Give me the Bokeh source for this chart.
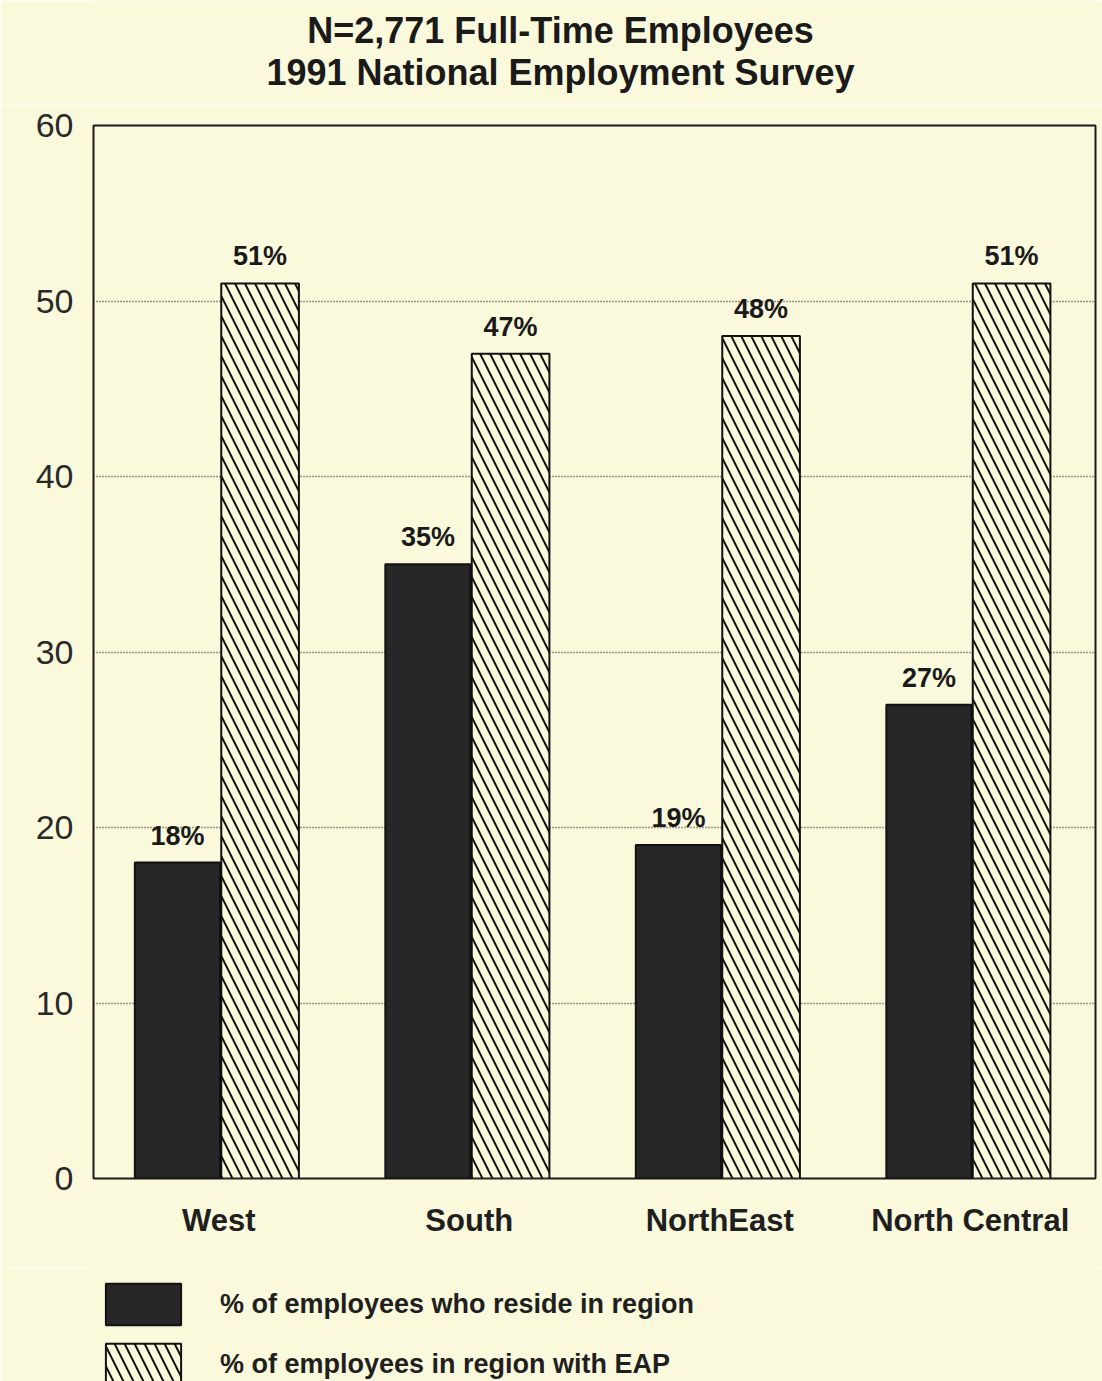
from bokeh.plotting import figure
from bokeh.layouts import column
from bokeh.models import (ColumnDataSource, FactorRange, Range1d, FixedTicker,
                          LabelSet, Legend, LegendItem, Label)
from bokeh.core.properties import value
from bokeh.transform import dodge
from bokeh.embed import file_html
from bokeh.resources import INLINE

regions = ["West", "South", "NorthEast", "North Central"]
reside_pct = [18, 35, 19, 27]
eap_pct = [51, 47, 48, 51]
y_ticks = [0, 10, 20, 30, 40, 50, 60]
title_line1 = "N=2,771 Full-Time Employees"
title_line2 = "1991 National Employment Survey"
legend_reside = "% of employees who reside in region"
legend_eap = "% of employees in region with EAP"

BG = "#fbf9dc"
FONT = "Liberation Sans"
W = 1102
TITLE_H = 105
LEGEND_H = 113
MAIN_H = 1381 - TITLE_H - LEGEND_H
FRAME_L, FRAME_R = 93, 1095

dark_style = dict(fill_color="#272727", line_color="#111111", line_width=2)
hatch_style = dict(fill_color=BG, line_color="#111111", line_width=2,
                   hatch_pattern="\\", hatch_color="#111111",
                   hatch_weight=2, hatch_scale=20)

# ---------- title strip ----------
tf = figure(width=W, height=TITLE_H, x_range=Range1d(FRAME_L, FRAME_R),
            y_range=Range1d(0, TITLE_H),
            output_backend="svg", toolbar_location=None,
            x_axis_type=None, y_axis_type=None, min_border=0,
            min_border_left=FRAME_L, min_border_right=W - FRAME_R)
tf.background_fill_color = BG
tf.border_fill_color = BG
tf.outline_line_color = None
tf.grid.grid_line_color = None
for txt, yy in [(title_line1, TITLE_H - 30), (title_line2, TITLE_H - 72)]:
    tf.add_layout(Label(x=560, y=yy, text=txt, text_align="center",
                        text_baseline="middle", text_font=FONT,
                        text_font_style="bold", text_font_size="36px",
                        text_color="#1a1a1a"))

# ---------- main chart ----------
src = ColumnDataSource(dict(
    region=regions,
    reside=reside_pct,
    eap=eap_pct,
    reside_lbl=[f"{v}%" for v in reside_pct],
    eap_lbl=[f"{v}%" for v in eap_pct],
))

p = figure(x_range=FactorRange(*regions), y_range=Range1d(0, 60),
           width=W, height=MAIN_H, output_backend="svg",
           toolbar_location=None, min_border_left=FRAME_L,
           min_border_right=W - FRAME_R,
           min_border_top=20, min_border_bottom=MAIN_H - 1073)

p.background_fill_color = BG
p.border_fill_color = BG
p.outline_line_color = "#1a1a1a"
p.outline_line_width = 2

x_dark = dodge("region", -0.165, range=p.x_range)
x_hatch = dodge("region", 0.165, range=p.x_range)

r_dark = p.vbar(x=x_dark, top="reside", width=0.34, source=src, **dark_style)
r_hatch = p.vbar(x=x_hatch, top="eap", width=0.31, source=src, **hatch_style)

for col, lbl, xx in [("reside", "reside_lbl", x_dark), ("eap", "eap_lbl", x_hatch)]:
    ls = LabelSet(x=xx, y=col, text=lbl, source=src, text_align="center",
                  text_baseline="bottom", y_offset=12,
                  text_font=value(FONT), text_font_style="bold",
                  text_font_size="27px", text_color="#1a1a1a")
    p.add_layout(ls)

p.yaxis.ticker = FixedTicker(ticks=y_ticks)
p.yaxis.axis_line_color = None
p.yaxis.major_tick_line_color = None
p.yaxis.minor_tick_line_color = None
p.yaxis.major_label_text_font = FONT
p.yaxis.major_label_text_font_size = "34px"
p.yaxis.major_label_text_color = "#2a2a2a"
p.yaxis.major_label_standoff = 14

p.xaxis.axis_line_color = None
p.xaxis.major_tick_line_color = None
p.xaxis.major_label_text_font = FONT
p.xaxis.major_label_text_font_style = "bold"
p.xaxis.major_label_text_font_size = "31px"
p.xaxis.major_label_text_color = "#1f1f1f"
p.xaxis.major_label_standoff = 18

p.xgrid.grid_line_color = None
p.ygrid.grid_line_color = "#333333"
p.ygrid.grid_line_dash = "1 2"
p.ygrid.grid_line_width = 1.5

# ---------- legend strip ----------
lf = figure(width=W, height=LEGEND_H, x_range=Range1d(0, 1), y_range=Range1d(0, 1),
            output_backend="svg", toolbar_location=None,
            x_axis_type=None, y_axis_type=None, min_border=0,
            min_border_left=FRAME_L, min_border_right=W - FRAME_R)
lf.background_fill_color = BG
lf.border_fill_color = BG
lf.outline_line_color = None
lf.grid.grid_line_color = None
lsrc = ColumnDataSource(dict(x=[0.5], top=[1.0]))
l_dark = lf.vbar(x="x", top="top", width=0.1, source=lsrc, visible=False, **dark_style)
l_hatch = lf.vbar(x="x", top="top", width=0.1, source=lsrc, visible=False, **hatch_style)

legend = Legend(items=[LegendItem(label=legend_reside, renderers=[l_dark]),
                       LegendItem(label=legend_eap, renderers=[l_hatch])],
                location=(3, -9), orientation="vertical",
                glyph_width=94, glyph_height=52, spacing=8,
                label_standoff=30, label_text_font=FONT,
                label_text_font_style="bold", label_text_font_size="27px",
                label_text_color="#1f1f1f", padding=0, margin=0,
                border_line_color=None, background_fill_alpha=0)
lf.add_layout(legend, "center")

layout = column(tf, p, lf, spacing=0)
open("out.html", "w").write(file_html(layout, INLINE))
